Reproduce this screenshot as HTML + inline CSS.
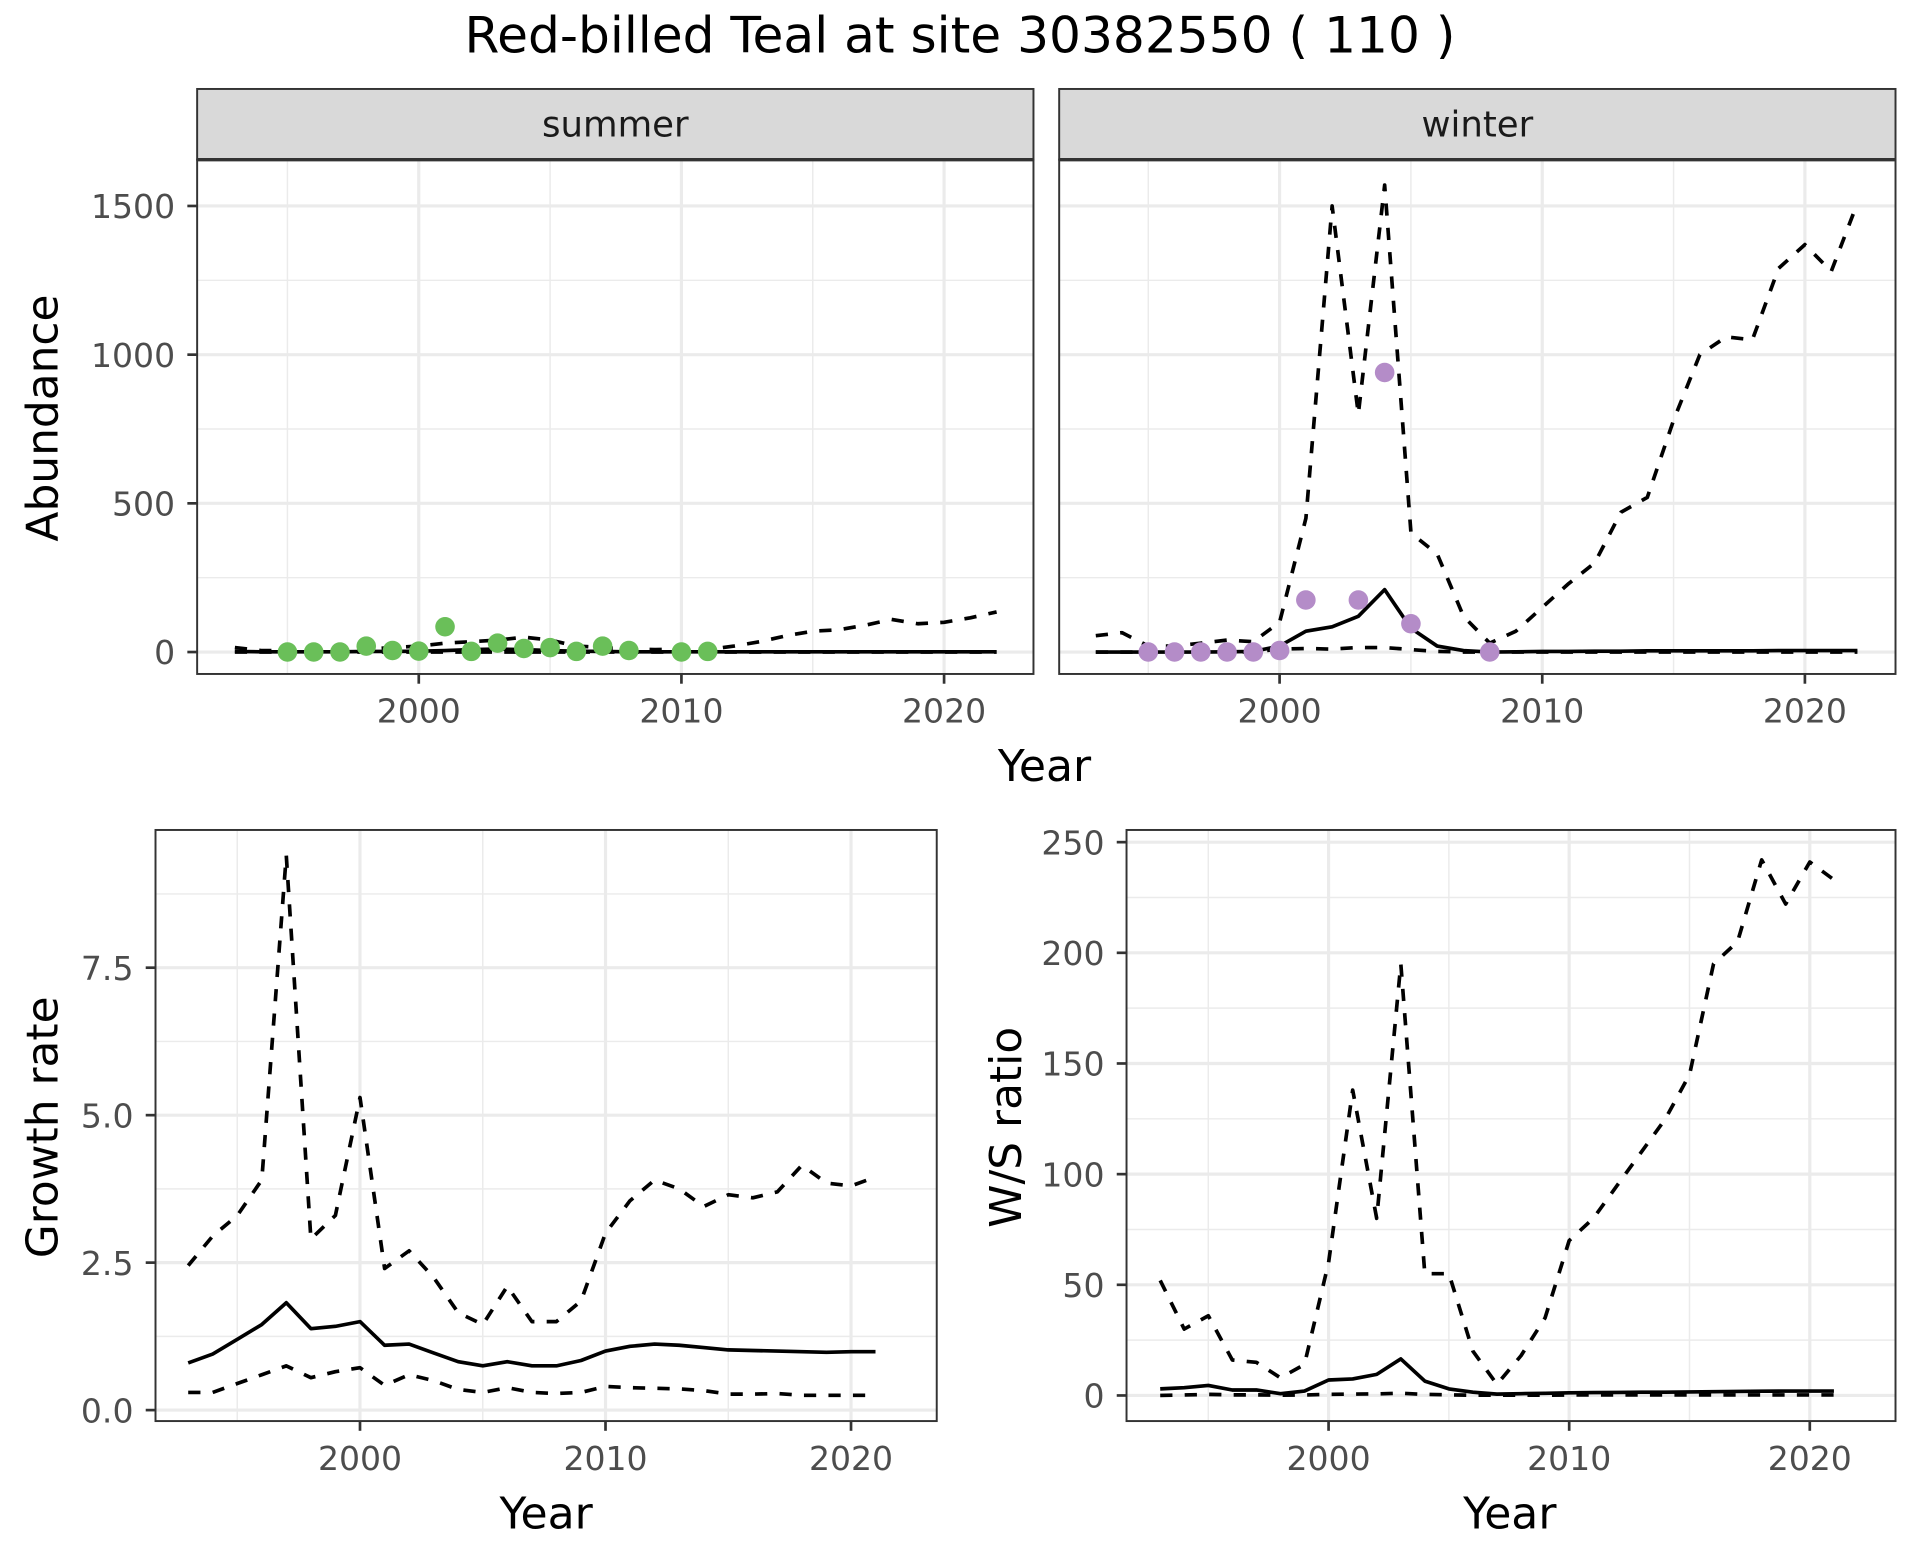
<!DOCTYPE html>
<html><head><meta charset="utf-8"><style>
html,body{margin:0;padding:0;background:#fff;}
svg{display:block;font-family:"DejaVu Sans","Liberation Sans",sans-serif;}
</style></head><body>
<svg id="chart" width="1920" height="1560" viewBox="0 0 1568 1280" preserveAspectRatio="none" xmlns="http://www.w3.org/2000/svg">
<text x="784" y="43" font-size="41" text-anchor="middle" fill="#000">Red-billed Teal at site 30382550 ( 110 )</text>
</svg>
<script>
// ---- data ----
const lineYears = [1993,1994,1995,1996,1997,1998,1999,2000,2001,2002,2003,2004,2005,2006,2007,2008,2009,2010,2011,2012,2013,2014,2015,2016,2017,2018,2019,2020,2021,2022];
const summerMean = [2,1,1,1,1,2,2,3,5,8,10,8,5,3,2,1,1,1,1,1,1,1,1,1,1,1,1,1,1,1];
const summerUpper = [15,5,5,5,5,10,15,20,30,35,40,50,40,20,15,10,8,10,8,20,35,55,70,75,90,110,95,100,115,135];
const summerLower = [0,0,0,0,0,0,0,0,0,0,0,0,0,0,0,0,0,0,0,0,0,0,0,0,0,0,0,0,0,0];
const summerPtYears = [1995,1996,1997,1998,1999,2000,2001,2002,2003,2004,2005,2006,2007,2008,2010,2011];
const summerPtVals = [0,0,0,20,5,3,85,2,30,12,15,2,20,5,0,2];
const winterMean = [0,0,0,0,0,1,2,20,70,85,120,210,80,20,5,0,1,2,2,3,3,4,4,4,4,4,5,5,5,5];
const winterUpper = [55,65,20,20,30,40,35,100,450,1500,800,1570,400,330,120,30,70,150,230,300,470,520,780,1000,1060,1050,1290,1370,1280,1510];
const winterLower = [0,0,0,0,0,0,0,10,12,10,15,15,8,2,0,0,0,0,0,0,0,0,0,0,0,0,0,0,0,0];
const winterPtYears = [1995,1996,1997,1998,1999,2000,2001,2003,2004,2005,2008];
const winterPtVals = [0,0,0,0,0,5,175,175,940,95,0];
const rateYears = [1993,1994,1995,1996,1997,1998,1999,2000,2001,2002,2003,2004,2005,2006,2007,2008,2009,2010,2011,2012,2013,2014,2015,2016,2017,2018,2019,2020,2021];
const growthMean = [0.8,0.95,1.2,1.45,1.82,1.38,1.42,1.5,1.1,1.12,0.97,0.82,0.75,0.82,0.75,0.75,0.84,1.0,1.08,1.12,1.1,1.06,1.02,1.01,1.0,0.99,0.98,0.99,0.99];
const growthUpper = [2.45,2.95,3.3,3.9,9.4,2.9,3.3,5.3,2.4,2.7,2.25,1.65,1.45,2.1,1.5,1.5,1.85,3.0,3.55,3.9,3.75,3.45,3.65,3.6,3.7,4.15,3.85,3.8,3.95];
const growthLower = [0.3,0.3,0.45,0.6,0.75,0.55,0.65,0.72,0.42,0.6,0.5,0.35,0.3,0.38,0.3,0.28,0.3,0.4,0.38,0.37,0.36,0.33,0.27,0.27,0.28,0.25,0.25,0.25,0.25];
const ratioMean = [3,3.5,4.5,2.5,2.5,0.8,2,7,7.5,9.5,16.5,6.5,3,1.5,0.6,0.8,1,1.2,1.3,1.4,1.5,1.5,1.6,1.7,1.8,1.9,2,2,2];
const ratioUpper = [52,30,36,16,15,8,14,60,138,80,195,55,55,20,5,18,35,70,80,95,110,125,145,195,205,242,222,241,233];
const ratioLower = [0,0.2,0.5,0.3,0.3,0.1,0.2,0.5,0.6,0.7,1,0.5,0.3,0.1,0.1,0.1,0.1,0.2,0.2,0.2,0.2,0.2,0.2,0.2,0.2,0.2,0.2,0.2,0.2];
const xTicks = [2000,2010,2020];
const xMinor = [1995,2005,2015];
const abTicks = [0,500,1000,1500];
const abMinor = [250,750,1250];
const grTicks = [0,2.5,5,7.5];
const grTickLabels = ['0.0','2.5','5.0','7.5'];
const grMinor = [1.25,3.75,6.25,8.75];
const wsTicks = [0,50,100,150,200,250];
const wsMinor = [25,75,125,175,225];

const NS='http://www.w3.org/2000/svg';
const svg=document.getElementById('chart');
function mk(tag,attrs,parent){const e=document.createElementNS(NS,tag);for(const k in attrs)e.setAttribute(k,attrs[k]);(parent||svg).appendChild(e);return e;}

function panel(o){
  const g=mk('g',{});
  
  
  const sx=v=>o.x0px+(v-o.x0v)*o.xs;
  const sy=v=>o.y0px-(v-o.y0v)*o.ys;
  mk('rect',{x:o.L,y:o.T,width:o.R-o.L,height:o.B-o.T,fill:'#fff'},g);
  o.yMinor.forEach(v=>mk('line',{x1:o.L,x2:o.R,y1:sy(v),y2:sy(v),stroke:'#ebebeb','stroke-width':1.2},g));
  xMinor.forEach(v=>mk('line',{x1:sx(v),x2:sx(v),y1:o.T,y2:o.B,stroke:'#ebebeb','stroke-width':1.2},g));
  o.yTicks.forEach(v=>mk('line',{x1:o.L,x2:o.R,y1:sy(v),y2:sy(v),stroke:'#ebebeb','stroke-width':2.6},g));
  xTicks.forEach(v=>mk('line',{x1:sx(v),x2:sx(v),y1:o.T,y2:o.B,stroke:'#ebebeb','stroke-width':2.6},g));
  const ln=(xs,ys,dash,nm)=>{
    const p=mk('path',{d:xs.map((x,i)=>(i?'L':'M')+sx(x).toFixed(1)+','+sy(ys[i]).toFixed(1)).join(''),fill:'none',stroke:'#000','stroke-width':3,'stroke-dasharray':dash?'10,10':'none','stroke-linejoin':'round'},g);
    
    
  };
  ln(o.years,o.lower,true,'lower-bound-line');
  ln(o.years,o.upper,true,'upper-bound-line');
  ln(o.years,o.mean,false,'mean-line');
  if(o.ptY){o.ptY.forEach((x,i)=>{
    const c=mk('circle',{cx:sx(x),cy:sy(o.ptV[i]),r:8,fill:o.ptC},g);
    
    
  });}
  mk('rect',{x:o.L,y:o.T,width:o.R-o.L,height:o.B-o.T,fill:'none',stroke:'#333','stroke-width':1.6},g);
  if(o.strip){
    const s=mk('rect',{x:o.L,y:o.T-58,width:o.R-o.L,height:58,fill:'#d9d9d9',stroke:'#333','stroke-width':1.6},g);
    
    
    mk('line',{x1:o.L,x2:o.R,y1:o.T,y2:o.T,stroke:'#333','stroke-width':2.8},g);
    const t=mk('text',{x:(o.L+o.R)/2,y:o.T-19,'font-size':29,'text-anchor':'middle',fill:'#1a1a1a'},g);
    t.textContent=o.strip;
    
    
  }
  xTicks.forEach(v=>{
    mk('line',{x1:sx(v),x2:sx(v),y1:o.B,y2:o.B+8,stroke:'#333','stroke-width':2.2},g);
    const t=mk('text',{x:sx(v),y:o.B+40,'font-size':27,'text-anchor':'middle',fill:'#4d4d4d'},g);
    t.textContent=v;
    
    
  });
  if(o.yLabels){o.yTicks.forEach((v,i)=>{
    mk('line',{x1:o.L-8,x2:o.L,y1:sy(v),y2:sy(v),stroke:'#333','stroke-width':2.2},g);
    const t=mk('text',{x:o.L-18,y:sy(v)+10,'font-size':27,'text-anchor':'end',fill:'#4d4d4d'},g);
    t.textContent=o.yLabels[i];
    
    
  });}
}

panel({name:'summer-panel',L:161,R:844,T:131,B:553,x0v:2000,x0px:342,xs:21.45,y0v:0,y0px:535,ys:0.244,
  yTicks:abTicks,yMinor:abMinor,yLabels:abTicks.map(String),years:lineYears,mean:summerMean,upper:summerUpper,lower:summerLower,
  ptY:summerPtYears,ptV:summerPtVals,ptC:'#6abf59',strip:'summer'});
panel({name:'winter-panel',L:865,R:1548,T:131,B:553,x0v:2000,x0px:1045,xs:21.45,y0v:0,y0px:535,ys:0.244,
  yTicks:abTicks,yMinor:abMinor,yLabels:null,years:lineYears,mean:winterMean,upper:winterUpper,lower:winterLower,
  ptY:winterPtYears,ptV:winterPtVals,ptC:'#b48cc8',strip:'winter'});
panel({name:'growth-rate-panel',L:127,R:765,T:681,B:1166,x0v:2000,x0px:294,xs:20.05,y0v:0,y0px:1157,ys:48.4,
  yTicks:grTicks,yMinor:grMinor,yLabels:grTickLabels,years:rateYears,mean:growthMean,upper:growthUpper,lower:growthLower});
panel({name:'ws-ratio-panel',L:920,R:1548,T:681,B:1166,x0v:2000,x0px:1085,xs:19.65,y0v:0,y0px:1145,ys:1.816,
  yTicks:wsTicks,yMinor:wsMinor,yLabels:wsTicks.map(String),years:rateYears,mean:ratioMean,upper:ratioUpper,lower:ratioLower});

function label(txt,x,y,rot,nm){
  const t=mk('text',{x:x,y:y,'font-size':36,'text-anchor':'middle',fill:'#000',transform:rot?`rotate(-90 ${x} ${y})`:''});
  t.textContent=txt;
  
  
}
label('Abundance',47,343,true,'abundance-y-axis-title');
label('Year',853,641,false,'top-x-axis-title');
label('Growth rate',47,925,true,'growth-y-axis-title');
label('Year',446,1254,false,'growth-x-axis-title');
label('W/S ratio',834,925,true,'ratio-y-axis-title');
label('Year',1233,1254,false,'ratio-x-axis-title');
</script>
</body></html>
